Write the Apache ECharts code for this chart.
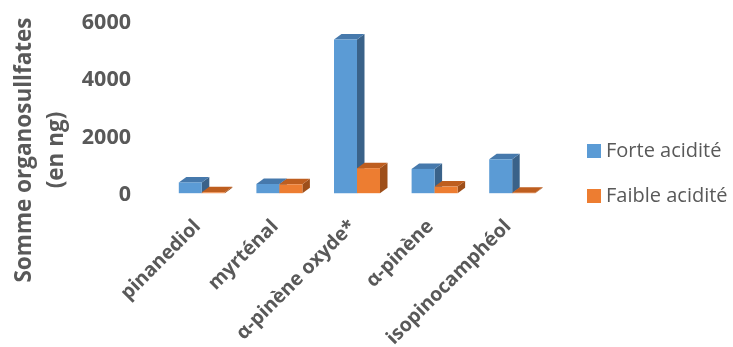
<!DOCTYPE html>
<html>
<head>
<meta charset="utf-8">
<script src="https://cdn.jsdelivr.net/npm/echarts@6/dist/echarts.min.js"></script>
<style>
html,body{margin:0;padding:0;background:#fff;}
#c{width:733px;height:347px;}
</style>
</head>
<body>
<div id="c"></div>
<script>
var categories = ['pinanediol', 'myrténal', 'α-pinène oxyde*', 'α-pinène', 'isopinocamphéol'];
var forteAcidite = [375, 320, 5350, 845, 1180];
var faibleAcidite = [30, 310, 870, 230, 15];
var seriesNames = ['Forte acidité', 'Faible acidité'];
var yTicks = { min: 0, max: 6000, interval: 2000 };

var BAR_W = 23, DX = 7.5, DY = 5.5, LIFT = 2;
var palettes = [
  { front: '#5B9BD5', top: '#4679AC', side: '#3A6289' },
  { front: '#ED7D31', top: '#BE5E1F', side: '#9E4F1A' }
];

function makeRender(idx) {
  var pal = palettes[idx];
  return function (params, api) {
    var cat = api.value(0), v = api.value(1);
    var base = api.coord([cat, 0]);
    var top = api.coord([cat, v]);
    var x0 = base[0] + (idx === 0 ? -BAR_W : 0);
    var x1 = x0 + BAR_W;
    var yb = base[1] - LIFT, yt = top[1] - LIFT;
    return {
      type: 'group',
      children: [
        { type: 'polygon', shape: { points: [[x1, yt], [x1 + DX, yt - DY], [x1 + DX, yb - DY], [x1, yb]] }, style: { fill: pal.side } },
        { type: 'polygon', shape: { points: [[x0, yt], [x0 + DX, yt - DY], [x1 + DX, yt - DY], [x1, yt]] }, style: { fill: pal.top } },
        { type: 'rect', shape: { x: x0, y: yt, width: BAR_W, height: yb - yt }, style: { fill: pal.front } }
      ]
    };
  };
}

function toData(arr) { return arr.map(function (v, i) { return [i, v]; }); }

var chart = echarts.init(document.getElementById('c'), null, { renderer: 'canvas' });
chart.setOption({
  animation: false,
  backgroundColor: '#fff',
  grid: { left: 163, right: 182, top: 22.7, bottom: 151.8, containLabel: false, outerBoundsMode: 'none' },
  xAxis: {
    type: 'category',
    data: categories,
    axisLine: { show: false },
    axisTick: { show: false },
    axisLabel: {
      rotate: 45, margin: 24, interval: 0, padding: [0, 6, 0, 0],
      color: '#595959', fontFamily: 'Open Sans', fontWeight: 'bold', fontSize: 19.5
    }
  },
  yAxis: {
    type: 'value',
    min: yTicks.min, max: yTicks.max, interval: yTicks.interval,
    axisLine: { show: false },
    axisTick: { show: false },
    splitLine: { show: false },
    axisLabel: {
      margin: 32, color: '#595959', fontFamily: 'Open Sans', fontWeight: 'bold', fontSize: 21.5,
      formatter: function (v) { return String(v); }
    }
  },
  legend: {
    orient: 'vertical',
    left: 582, top: 136,
    itemWidth: 14, itemHeight: 14, itemGap: 25,
    data: [{ name: seriesNames[0], icon: 'rect' }, { name: seriesNames[1], icon: 'rect' }],
    textStyle: { color: '#595959', fontFamily: 'Open Sans', fontSize: 20, lineHeight: 20 }
  },
  graphic: [{
    type: 'text',
    x: 41, y: 150,
    rotation: Math.PI / 2,
    style: {
      text: 'Somme organosullfates\n(en ng)',
      fill: '#595959',
      font: 'bold 22.5px "Open Sans"',
      lineHeight: 32,
      align: 'center',
      verticalAlign: 'middle'
    }
  }],
  series: [
    { name: seriesNames[0], type: 'custom', renderItem: makeRender(0), data: toData(forteAcidite), itemStyle: { color: palettes[0].front }, z: 2 },
    { name: seriesNames[1], type: 'custom', renderItem: makeRender(1), data: toData(faibleAcidite), itemStyle: { color: palettes[1].front }, z: 3 }
  ]
});
</script>
</body>
</html>
